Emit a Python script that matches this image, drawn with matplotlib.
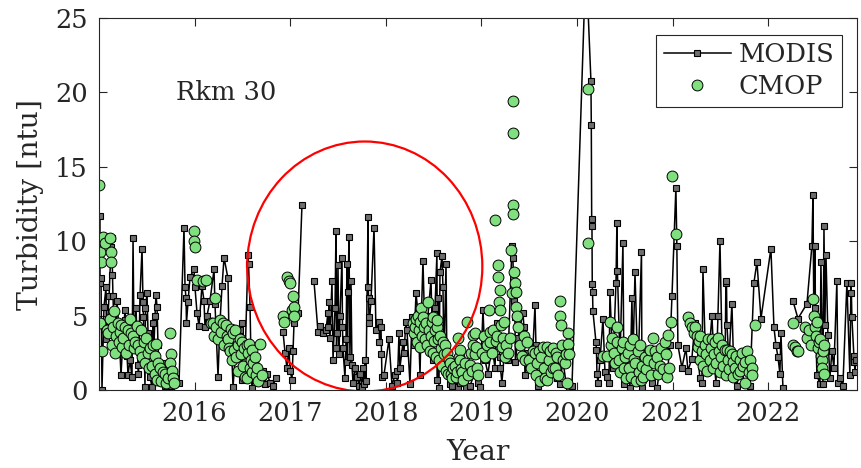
import numpy as np
import matplotlib
matplotlib.use('Agg')
import matplotlib.pyplot as plt
from matplotlib.patches import Ellipse

plt.rcParams['font.family'] = ['DejaVu Serif']
plt.rcParams['text.color'] = '#262626'
plt.rcParams['axes.labelcolor'] = '#262626'

# MODIS turbidity (decimal year, ntu); nan = gap in the record
modis_year = [
    2015.010, 2015.010, 2015.021, 2015.031, 2015.052, 2015.073, 2015.078, 2015.084, 2015.105, 2015.126,
    2015.136, 2015.141, 2015.146, 2015.167, 2015.188, 2015.209, 2015.230, 2015.251, 2015.272, 2015.277,
    2015.293, 2015.303, 2015.324, 2015.345, 2015.356, 2015.366, 2015.387, 2015.408, 2015.413, 2015.429,
    2015.450, 2015.460, 2015.465, 2015.481, 2015.486, 2015.502, 2015.513, 2015.533, 2015.554, 2015.565,
    2015.570, 2015.586, 2015.596, 2015.607, 2015.617, 2015.638, 2015.669, 2015.690, 2015.722, 2015.753,
    2015.795, 2015.837, 2015.889, 2015.900, 2015.910, 2015.915, 2015.931, 2015.952, 2015.994, 2016.004,
    2016.025, 2016.046, 2016.077, 2016.098, 2016.109, 2016.130, 2016.161, 2016.203, 2016.213, 2016.245,
    2016.266, 2016.287, 2016.308, 2016.349, 2016.360, 2016.391, 2016.402, 2016.433, 2016.454, 2016.475,
    2016.496, 2016.501, 2016.527, 2016.559, 2016.564, 2016.580, 2016.590, 2016.600, 2016.632, 2016.663,
    2016.684, 2016.715, 2016.736, 2016.757, 2016.789, 2016.820, 2016.851, np.nan,
    2016.925, 2016.946, 2016.966, 2016.987, 2016.998, 2017.019, 2017.029, 2017.040, 2017.082, 2017.123,
    np.nan,
    2017.249, 2017.291, 2017.312, 2017.343, 2017.374, 2017.395, 2017.400, 2017.406, 2017.416, 2017.437,
    2017.448, 2017.469, 2017.479, 2017.484, 2017.490, 2017.500, 2017.510, 2017.521, 2017.542, 2017.547,
    2017.552, 2017.573, 2017.584, 2017.594, 2017.599, 2017.605, 2017.615, 2017.625, 2017.636, 2017.646,
    2017.657, 2017.678, 2017.699, 2017.720, 2017.730, 2017.751, 2017.761, 2017.772, 2017.782, 2017.793,
    2017.814, 2017.817, 2017.820, 2017.824, 2017.828, 2017.845, 2017.877, 2017.897, 2017.929, 2017.934,
    2017.950, 2017.955, 2017.960, 2017.981, 2018.033, 2018.065, 2018.096, 2018.117, 2018.122, 2018.138,
    2018.148, 2018.180, 2018.190, 2018.211, 2018.222, 2018.253, 2018.274, 2018.295, 2018.316, 2018.337,
    2018.358, 2018.368, 2018.389, 2018.410, 2018.441, 2018.473, 2018.494, 2018.515, 2018.535, 2018.540,
    2018.546, 2018.556, 2018.567, 2018.588, 2018.598, 2018.609, 2018.630, 2018.640, 2018.671, 2018.692,
    2018.724, 2018.755, 2018.776, 2018.807, 2018.839, 2018.881, 2018.923, 2018.964, 2018.985, 2019.017,
    2019.038, 2019.069, 2019.111, 2019.142, 2019.163, 2019.194, 2019.199, 2019.215, 2019.247, 2019.278,
    2019.320, 2019.330, 2019.341, 2019.351, 2019.356, 2019.383, 2019.435, 2019.446, 2019.456, 2019.487,
    2019.529, 2019.561, 2019.571, 2019.592, 2019.613, 2019.665, 2019.717, 2019.770, 2019.791, 2019.822,
    2019.853, 2019.885, 2019.916, 2019.948, 2020.094, 2020.146, 2020.150, 2020.154, 2020.157, 2020.160,
    2020.163, 2020.167, 2020.199, 2020.204, 2020.209, 2020.220, 2020.241, 2020.272, 2020.293, 2020.314,
    2020.335, 2020.345, 2020.376, 2020.408, 2020.418, 2020.423, 2020.450, 2020.481, 2020.492, 2020.523,
    2020.554, 2020.575, 2020.586, 2020.607, 2020.638, 2020.675, 2020.680, 2020.711, 2020.743, 2020.784,
    2020.837, 2020.868, 2020.920, 2020.941, 2020.973, 2020.994, 2021.035, 2021.045, 2021.056, 2021.098,
    2021.140, 2021.161, 2021.202, 2021.234, 2021.286, 2021.307, 2021.318, 2021.339, 2021.370, 2021.412,
    2021.433, 2021.454, 2021.475, 2021.496, 2021.517, 2021.548, 2021.558, 2021.564, 2021.569, 2021.590,
    2021.621, 2021.642, 2021.673, 2021.705, 2021.757, 2021.809, 2021.851, 2021.883, 2021.925, 2022.029,
    2022.061, 2022.082, 2022.103, 2022.123, 2022.134, 2022.155, np.nan,
    2022.259, 2022.312, 2022.406, 2022.458, 2022.469, 2022.479, 2022.485, 2022.490, 2022.495, 2022.510,
    2022.542, 2022.552, 2022.573, 2022.584, 2022.594, 2022.605, 2022.625, 2022.646, 2022.667, 2022.688,
    2022.719, 2022.730, 2022.751, 2022.782, 2022.824, 2022.855, 2022.866, 2022.871, 2022.876, 2022.897,
    2022.902, 2022.908, 2022.918,
]
modis_ntu = [
    11.7, 7.2, 7.5, 0.0, 5.6, 6.9, 3.4, 3.9, 6.3, 9.6,
    10.2, 7.7, 6.3, 2.5, 6.0, 4.0, 1.0, 3.5, 5.4, 4.7,
    2.3, 1.0, 2.0, 0.9, 10.2, 3.5, 5.5, 1.7, 1.1, 6.4,
    9.5, 5.9, 4.9, 0.2, 5.5, 6.5, 3.8, 0.9, 0.2, 4.5,
    2.1, 5.0, 6.4, 5.6, 3.0, 0.7, 1.8, 0.3, 1.5, 0.3,
    0.8, 0.5, 10.9, 6.9, 6.2, 4.5, 5.9, 7.6, 8.1, 6.9,
    5.2, 4.3, 7.0, 6.0, 4.2, 5.0, 6.0, 8.1, 5.8, 0.9,
    4.6, 7.0, 8.9, 7.5, 3.5, 2.0, 0.2, 3.0, 2.5, 4.0,
    0.7, 4.5, 2.0, 9.1, 8.5, 5.6, 2.0, 0.1, 1.5, 0.6,
    1.1, 1.3, 0.4, 1.1, 0.5, 0.3, 0.8, np.nan,
    3.9, 2.5, 1.5, 2.8, 1.3, 0.7, 2.6, 4.5, 5.2, 12.4,
    np.nan,
    7.3, 3.9, 4.3, 3.8, 4.0, 5.2, 4.2, 5.9, 3.5, 7.3,
    2.0, 5.5, 10.7, 2.8, 3.8, 8.4, 2.4, 5.0, 8.9, 4.2,
    2.8, 0.8, 3.4, 8.5, 1.9, 6.6, 10.3, 2.2, 7.3, 1.7,
    0.5, 1.5, 0.9, 0.3, 1.1, 0.2, 1.5, 0.4, 2.0, 0.6,
    11.6, 6.9, 6.2, 4.9, 4.5, 6.0, 10.9, 4.0, 4.6, 3.2,
    4.2, 2.4, 0.9, 1.0, 3.4, 0.3, 1.0, 1.3, 0.5, 3.8,
    1.5, 3.2, 2.5, 4.6, 4.0, 0.4, 4.9, 3.0, 6.5, 5.2,
    1.0, 4.0, 8.7, 3.5, 5.0, 7.4, 2.0, 5.5, 9.2, 0.7,
    6.2, 0.1, 7.9, 9.0, 6.9, 2.0, 8.5, 1.2, 0.4, 0.3,
    0.8, 0.2, 0.5, 1.5, 0.2, 0.3, 1.0, 0.5, 0.2, 5.4,
    2.0, 1.1, 3.0, 1.5, 4.5, 2.2, 1.5, 0.5, 3.0, 2.0,
    9.7, 8.9, 6.0, 4.9, 1.9, 3.5, 5.2, 4.2, 1.0, 2.5,
    1.5, 5.7, 3.0, 0.3, 1.0, 2.6, 1.5, 1.9, 0.8, 0.4,
    2.0, 0.5, 0.2, 0.3, 29.0, 20.8, 17.8, 11.5, 11.0, 7.1,
    6.6, 5.3, 3.2, 2.7, 1.1, 0.5, 2.0, 4.8, 1.2, 0.9,
    0.5, 6.6, 1.5, 7.2, 11.2, 8.0, 2.0, 9.9, 0.4, 3.0,
    0.1, 6.2, 2.0, 7.9, 1.0, 9.3, 0.1, 2.5, 1.0, 0.5,
    0.1, 1.5, 1.2, 0.8, 3.0, 6.3, 13.6, 9.7, 3.0, 1.5,
    2.8, 1.3, 2.1, 4.5, 0.8, 0.5, 8.1, 3.5, 1.5, 5.0,
    2.0, 0.5, 5.0, 10.0, 3.0, 1.0, 7.2, 7.3, 4.4, 2.0,
    5.8, 1.0, 0.3, 1.5, 0.5, 0.3, 7.2, 8.6, 4.8, 9.5,
    4.2, 3.0, 2.2, 1.1, 3.8, 0.1, np.nan,
    6.0, 4.8, 5.8, 9.7, 13.1, 4.0, 5.5, 9.7, 5.0, 1.0,
    0.4, 8.6, 0.4, 11.0, 4.4, 9.1, 3.7, 0.8, 2.6, 1.5,
    7.3, 0.5, 0.8, 0.3, 7.2, 1.0, 7.2, 6.5, 4.9, 2.3,
    1.9, 1.2, 2.0,
]

# CMOP in-situ turbidity (decimal year, ntu)
cmop_year = [
    2015.00, 2015.01, 2015.02, 2015.01, 2015.03, 2015.04, 2015.06, 2015.08, 2015.09, 2015.12,
    2015.13, 2015.13, 2015.12, 2015.14, 2015.15, 2015.16, 2015.17, 2015.18, 2015.20, 2015.21,
    2015.22, 2015.23, 2015.24, 2015.25, 2015.27, 2015.28, 2015.30, 2015.31, 2015.32, 2015.33,
    2015.36, 2015.37, 2015.38, 2015.40, 2015.41, 2015.43, 2015.44, 2015.45, 2015.47, 2015.48,
    2015.49, 2015.51, 2015.52, 2015.53, 2015.55, 2015.56, 2015.59, 2015.59, 2015.60, 2015.61,
    2015.62, 2015.64, 2015.65, 2015.67, 2015.69, 2015.70, 2015.72, 2015.74, 2015.75, 2015.74,
    2015.76, 2015.77, 2015.78,
    2015.99, 2015.99, 2016.00, 2016.03, 2016.09, 2016.12, 2016.21, 2016.17, 2016.19, 2016.20,
    2016.22, 2016.24, 2016.27, 2016.28, 2016.30, 2016.31, 2016.33, 2016.34, 2016.35, 2016.36,
    2016.37, 2016.38, 2016.39, 2016.40, 2016.41, 2016.42, 2016.43, 2016.45, 2016.45, 2016.47,
    2016.49, 2016.50, 2016.51, 2016.52, 2016.53, 2016.55, 2016.55, 2016.56, 2016.57, 2016.58,
    2016.59, 2016.60, 2016.60, 2016.61, 2016.63, 2016.64, 2016.65, 2016.66, 2016.68, 2016.70,
    2016.92, 2016.94, 2016.97, 2016.99, 2017.00, 2017.02, 2017.03, 2017.04, 2017.04,
    2018.285, 2018.295, 2018.305, 2018.316, 2018.326, 2018.337, 2018.347, 2018.358, 2018.358, 2018.368,
    2018.379, 2018.389, 2018.400, 2018.410, 2018.420, 2018.431, 2018.441, 2018.452, 2018.462, 2018.473,
    2018.483, 2018.494, 2018.494, 2018.504, 2018.515, 2018.525, 2018.536, 2018.536, 2018.546, 2018.556,
    2018.567, 2018.577, 2018.588, 2018.598, 2018.609, 2018.619, 2018.630, 2018.640, 2018.651, 2018.661,
    2018.672, 2018.682, 2018.692, 2018.703, 2018.724, 2018.734, 2018.745, 2018.755, 2018.766, 2018.776,
    2018.776, 2018.787, 2018.797, 2018.808, 2018.828, 2018.849, 2018.860, 2018.881, 2018.891, 2018.902,
    2018.912, 2018.912, 2018.933, 2018.933, 2018.944, 2018.954, 2018.964,
    2019.006, 2019.027, 2019.038, 2019.059, 2019.079, 2019.090, 2019.090, 2019.111, 2019.121, 2019.142,
    2019.153, 2019.163, 2019.174, 2019.174, 2019.184, 2019.195, 2019.195, 2019.205, 2019.215, 2019.226,
    2019.236, 2019.247, 2019.257, 2019.278, 2019.299, 2019.310, 2019.320, 2019.330, 2019.330, 2019.330,
    2019.330, 2019.341, 2019.351, 2019.362, 2019.362, 2019.372, 2019.383, 2019.404, 2019.425, 2019.446,
    2019.456, 2019.477, 2019.498, 2019.519, 2019.540, 2019.561, 2019.571, 2019.582, 2019.603, 2019.613,
    2019.623, 2019.644, 2019.655, 2019.665, 2019.686, 2019.686, 2019.707, 2019.718, 2019.728, 2019.749,
    2019.749, 2019.770, 2019.780, 2019.791, 2019.801, 2019.822, 2019.822, 2019.832, 2019.843, 2019.853,
    2019.874, 2019.885, 2019.906, 2019.906, 2019.916, 2019.895,
    2020.115, 2020.115, 2020.272, 2020.314, 2020.345, 2020.356, 2020.366, 2020.387, 2020.397, 2020.418,
    2020.418, 2020.439, 2020.450, 2020.471, 2020.481, 2020.492, 2020.502, 2020.513, 2020.533, 2020.544,
    2020.554, 2020.565, 2020.586, 2020.596, 2020.607, 2020.617, 2020.638, 2020.649, 2020.659, 2020.669,
    2020.680, 2020.690, 2020.711, 2020.722, 2020.743, 2020.764, 2020.774, 2020.795, 2020.805, 2020.816,
    2020.837, 2020.847, 2020.868, 2020.879, 2020.900, 2020.920, 2020.931, 2020.941, 2020.952, 2020.962,
    2020.983, 2020.994, 2021.035,
    2021.161, 2021.182, 2021.203, 2021.224, 2021.234, 2021.255, 2021.266, 2021.276, 2021.287, 2021.287,
    2021.308, 2021.318, 2021.339, 2021.349, 2021.360, 2021.370, 2021.391, 2021.402, 2021.412, 2021.423,
    2021.433, 2021.444, 2021.454, 2021.475, 2021.485, 2021.496, 2021.506, 2021.517, 2021.527, 2021.548,
    2021.559, 2021.569, 2021.579, 2021.590, 2021.600, 2021.621, 2021.632, 2021.632, 2021.653, 2021.663,
    2021.684, 2021.705, 2021.705, 2021.726, 2021.736, 2021.757, 2021.757, 2021.778, 2021.799, 2021.810,
    2021.831, 2021.831, 2021.862,
    2022.259, 2022.259, 2022.280, 2022.301, 2022.312, 2022.385, 2022.406, 2022.427, 2022.448, 2022.469,
    2022.479, 2022.490, 2022.500, 2022.510, 2022.521, 2022.531, 2022.542, 2022.552, 2022.563, 2022.563,
    2022.573, 2022.584, 2022.584,
]
cmop_ntu = [
    13.8, 9.3, 8.6, 4.5, 2.6, 10.3, 9.9, 4.0, 3.8, 10.2,
    9.3, 8.6, 4.8, 3.0, 4.2, 5.3, 2.5, 3.6, 4.5, 3.2,
    3.9, 4.4, 2.9, 3.5, 4.2, 2.5, 4.0, 3.0, 4.8, 3.8,
    3.6, 2.8, 3.2, 4.3, 3.0, 2.6, 4.0, 2.2, 3.2, 1.8,
    3.5, 2.5, 1.5, 2.8, 1.6, 3.0, 2.3, 1.1, 3.1, 0.7,
    1.8, 1.5, 0.6, 1.2, 1.1, 0.5, 0.8, 3.8, 2.4, 1.8,
    1.3, 0.8, 0.5,
    10.7, 10.0, 9.6, 7.4, 7.3, 7.4, 6.2, 4.5, 4.5, 3.6,
    4.2, 3.4, 4.7, 3.9, 4.5, 3.0, 4.4, 3.6, 3.4, 2.8,
    2.6, 4.1, 2.0, 3.8, 2.7, 4.0, 2.2, 1.3, 3.0, 3.4,
    2.4, 3.2, 1.6, 2.8, 0.9, 3.0, 0.8, 2.5, 3.1, 1.5,
    2.0, 2.7, 1.2, 1.8, 2.2, 1.0, 1.5, 0.6, 3.1, 1.0,
    5.0, 4.6, 7.6, 7.3, 7.2, 5.4, 6.3, 5.6, 5.0,
    4.5, 3.8, 4.2, 4.8, 3.2, 5.0, 4.0, 2.9, 4.6, 5.5,
    3.6, 4.9, 4.2, 3.4, 4.5, 3.0, 5.9, 4.0, 2.6, 3.6,
    4.6, 4.9, 2.5, 3.3, 4.0, 2.2, 4.2, 4.7, 3.4, 2.0,
    3.6, 2.8, 1.6, 3.2, 2.4, 3.0, 1.3, 2.5, 1.1, 2.0,
    1.8, 1.1, 0.8, 1.5, 1.6, 0.9, 1.2, 3.5, 2.2, 2.7,
    2.0, 1.4, 1.2, 0.7, 1.8, 4.6, 1.0, 1.7, 2.5, 1.3,
    3.7, 3.0, 2.4, 3.8, 2.9, 1.5, 1.0,
    2.5, 3.6, 2.2, 3.0, 5.4, 3.9, 3.2, 2.5, 4.0, 11.4,
    3.3, 3.6, 8.4, 7.6, 5.9, 6.7, 5.4, 4.4, 2.9, 3.5,
    4.6, 2.2, 3.0, 2.5, 3.5, 9.4, 6.5, 19.4, 17.3, 12.4,
    11.8, 7.9, 7.2, 6.6, 5.6, 5.0, 4.2, 3.0, 2.3, 3.6,
    2.0, 3.2, 2.0, 1.5, 2.6, 2.5, 1.0, 1.8, 2.6, 0.6,
    2.2, 2.9, 1.5, 0.8, 2.9, 0.7, 2.0, 2.6, 1.2, 2.8,
    1.5, 1.5, 2.5, 2.2, 1.0, 6.0, 5.0, 4.4, 3.0, 2.0,
    1.8, 2.4, 3.8, 3.1, 2.4, 0.5,
    20.2, 9.9, 2.3, 2.3, 4.6, 3.0, 3.5, 2.5, 1.8, 4.2,
    3.2, 2.0, 1.2, 2.8, 3.2, 1.5, 2.2, 0.8, 2.5, 1.5,
    3.0, 0.9, 3.4, 2.1, 1.8, 0.6, 2.6, 1.2, 3.0, 0.7,
    1.6, 0.9, 2.2, 1.4, 2.0, 2.7, 1.0, 3.5, 1.8, 2.6,
    2.2, 1.1, 1.6, 2.8, 1.4, 3.2, 2.4, 0.9, 3.7, 1.5,
    4.6, 14.4, 10.5,
    4.9, 4.5, 4.2, 3.8, 4.2, 3.6, 2.9, 3.3, 2.0, 3.6,
    2.6, 1.6, 3.0, 2.4, 1.3, 3.4, 2.0, 2.8, 3.4, 1.5,
    2.4, 3.2, 1.8, 3.5, 2.6, 1.2, 2.2, 3.0, 1.6, 2.7,
    1.0, 2.7, 2.0, 1.4, 2.6, 2.4, 1.9, 0.9, 1.5, 2.3,
    1.1, 1.3, 2.0, 2.5, 1.6, 0.5, 1.9, 2.6, 1.2, 2.0,
    1.5, 1.0, 4.4,
    4.5, 3.0, 2.9, 2.6, 2.6, 4.2, 3.5, 4.0, 3.0, 6.1,
    5.0, 4.2, 3.6, 4.6, 2.8, 3.2, 3.4, 2.3, 2.0, 1.5,
    2.6, 1.1, 3.0,
]

year_ticks = [2016, 2017, 2018, 2019, 2020, 2021, 2022]

fig = plt.figure(figsize=(8.61, 4.68), dpi=100)
ax = fig.add_axes([0.115, 0.1667, 0.8804, 0.7948])

ax.plot(modis_year, modis_ntu, '-s', color='k', lw=1.1, ms=5,
        mfc='#6e6e6e', mec='k', mew=0.8, label='MODIS')
ax.plot(cmop_year, cmop_ntu, 'o', ls='none', ms=7.8,
        mfc='#80e080', mec='k', mew=0.7, label='CMOP')

# highlighted period
ax.add_patch(Ellipse((2017.78, 8.3), 2.46, 16.8, fill=False,
                     edgecolor='red', lw=1.6, zorder=5))

ax.text(2015.81, 20.0, 'Rkm 30', fontsize=18.5, va='center', ha='left')

ax.set_xlim(2015.0, 2022.93)
ax.set_ylim(0, 25)
ax.set_xticks(year_ticks)
ax.set_xticklabels([str(y) for y in year_ticks])
ax.set_yticks([0, 5, 10, 15, 20, 25])
ax.tick_params(direction='in', length=6, width=0.8, top=True, right=True,
               labelsize=18.5, colors='#262626', pad=8)
for s in ax.spines.values():
    s.set_color('#262626')
    s.set_linewidth(0.8)

ax.set_xlabel('Year', fontsize=20.4, labelpad=9)
ax.set_ylabel('Turbidity [ntu]', fontsize=20.4, labelpad=8)

leg = ax.legend(loc='upper right', bbox_to_anchor=(0.98, 0.955), fontsize=18.5,
                fancybox=False, framealpha=1, edgecolor='#262626',
                handlelength=2.6, borderpad=0.3, labelspacing=0.25,
                handletextpad=0.3, borderaxespad=0)
leg.get_frame().set_linewidth(0.8)

fig.savefig('out.png', dpi=100)
